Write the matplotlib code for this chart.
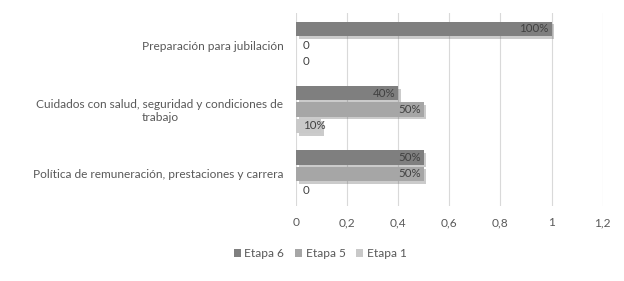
import numpy as np
import matplotlib
matplotlib.use("Agg")
import matplotlib.pyplot as plt
import matplotlib.patheffects as pe

plt.rcParams['font.family'] = ['Lato', 'DejaVu Sans']

categories = ["Preparación para jubilación",
              "Cuidados con salud, seguridad y condiciones de\ntrabajo",
              "Política de remuneración, prestaciones y carrera"]
series_names = ["Etapa 6", "Etapa 5", "Etapa 1"]
etapa6 = [1.0, 0.4, 0.5]
etapa5 = [0.0, 0.5, 0.5]
etapa1 = [0.0, 0.1, 0.0]
labels6 = ["100%", "40%", "50%"]
labels5 = ["0", "50%", "50%"]
labels1 = ["0", "10%", "0"]
xticks = [0, 0.2, 0.4, 0.6, 0.8, 1, 1.2]
xticklabels = ["0", "0,2", "0,4", "0,6", "0,8", "1", "1,2"]

colors = ["#7f7f7f", "#a6a6a6", "#c9c9c9"]
txt = "#595959"

fig = plt.figure(figsize=(6.24, 2.81), dpi=100)
ax = fig.add_axes([0.474, 0.267, 0.492, 0.687])

y = np.arange(len(categories))
pitch = 0.254
h = 0.225
shadow = [pe.SimplePatchShadow(offset=(2, -2), shadow_rgbFace="#555555", alpha=0.3), pe.Normal()]

all_vals = [etapa6, etapa5, etapa1]
all_labels = [labels6, labels5, labels1]
for k in range(3):
    pos = y + (k - 1) * pitch
    bars = ax.barh(pos, all_vals[k], height=h, color=colors[k], label=series_names[k], zorder=3)
    for b in bars:
        b.set_path_effects(shadow)
    for p, v, lab in zip(pos, all_vals[k], all_labels[k]):
        if v >= 0.3:
            ax.text(v - 0.012, p, lab, ha='right', va='center', fontsize=8.3, color="#404040", zorder=4)
        else:
            ax.text(0.027, p, lab, ha='left', va='center', fontsize=8.3, color="#404040", zorder=4)

ax.set_ylim(2.5, -0.5)
ax.set_xlim(0, 1.2)
ax.set_yticks(y)
ax.set_yticklabels(categories, fontsize=8.6, color=txt, ha='right', multialignment='center')
ax.tick_params(axis='y', length=0, pad=9)
ax.set_xticks(xticks)
ax.set_xticklabels(xticklabels, fontsize=8.6, color=txt)
ax.tick_params(axis='x', length=0, pad=8)
ax.grid(axis='x', color="#d9d9d9", linewidth=0.8, zorder=0)
for s in ax.spines.values():
    s.set_visible(False)

leg = fig.legend(loc='lower left', bbox_to_anchor=(0.357, 0.04), ncol=3, frameon=False,
                 fontsize=8.6, handlelength=0.6, handleheight=0.6, handletextpad=0.3,
                 columnspacing=0.9, labelcolor=txt)
for hnd in leg.legend_handles:
    hnd.set_path_effects([])

fig.savefig("out.png", dpi=100)
